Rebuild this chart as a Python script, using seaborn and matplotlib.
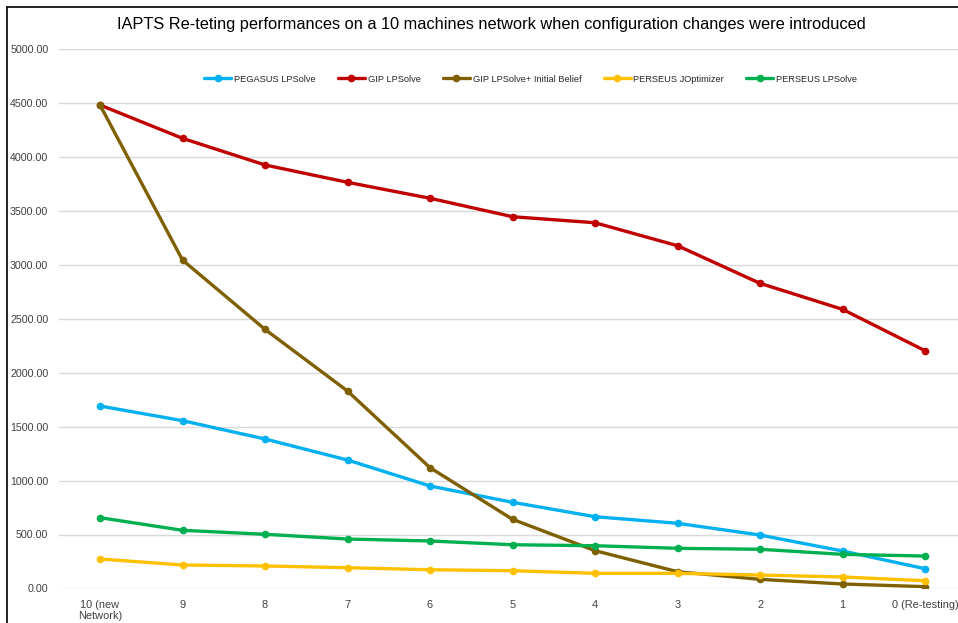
import matplotlib
matplotlib.use("Agg")
import matplotlib.pyplot as plt
import seaborn as sns
import pandas as pd
from matplotlib.lines import Line2D
from matplotlib.ticker import FormatStrFormatter

stages = ["10 (new\nNetwork)", "9", "8", "7", "6", "5", "4", "3", "2", "1", "0 (Re-testing)"]
pegasus_lpsolve = [1692, 1556, 1386, 1191, 950, 799, 665, 604, 495, 347, 183]
gip_lpsolve = [4484, 4175, 3928, 3767, 3619, 3448, 3392, 3179, 2830, 2589, 2205]
gip_lpsolve_belief = [4484, 3046, 2403, 1831, 1120, 641, 350, 155, 84, 41, 16]
perseus_joptimizer = [273, 217, 208, 192, 173, 164, 140, 140, 124, 106, 71]
perseus_lpsolve = [656, 539, 502, 458, 440, 405, 396, 372, 363, 316, 300]

series_names = ["PEGASUS LPSolve", "GIP LPSolve", "GIP LPSolve+ Initial Belief",
                "PERSEUS JOptimizer", "PERSEUS LPSolve"]
series_values = [pegasus_lpsolve, gip_lpsolve, gip_lpsolve_belief,
                 perseus_joptimizer, perseus_lpsolve]
colors = ["#00B0F0", "#C00000", "#7F6000", "#FFC000", "#00B050"]

rows = []
for name, vals in zip(series_names, series_values):
    for st, v in zip(stages, vals):
        rows.append({"stage": st, "value": v, "series": name})
df = pd.DataFrame(rows)

sns.set_style("white")
plt.rcParams["font.family"] = ["Liberation Sans", "DejaVu Sans"]

fig = plt.figure(figsize=(9.58, 6.23), dpi=100)
ax = fig.add_axes([58.75 / 958, 34.6 / 623, 907.5 / 958, 539.0 / 623])

sns.lineplot(data=df, x="stage", y="value", hue="series", hue_order=series_names,
             palette=dict(zip(series_names, colors)), marker="o", markersize=5.5,
             markeredgewidth=0, linewidth=2.4, sort=False, ax=ax)

ax.set_xlim(-0.5, 10.5)
ax.set_ylim(0, 5000)
ax.set_yticks(range(0, 5001, 500))
ax.yaxis.set_major_formatter(FormatStrFormatter("%.2f"))
ax.grid(axis="y", color="#D9D9D9", linewidth=1)
ax.grid(axis="x", visible=False)
ax.set_axisbelow(True)
for s in ax.spines.values():
    s.set_visible(False)
ax.tick_params(axis="y", length=0, labelsize=7.7, labelcolor="#404040", pad=7.5)
ax.tick_params(axis="x", length=0, labelsize=7.9, labelcolor="#404040", pad=8.5)
for lbl in ax.get_xticklabels():
    lbl.set_linespacing(1.15)
ax.set_xlabel("")
ax.set_ylabel("")

leg = ax.legend(loc="center", bbox_to_anchor=(0.52, 0.945), ncol=5, frameon=False,
                fontsize=6.7, handlelength=2.9, columnspacing=2.4, handletextpad=0.3)

fig.text(491 / 958, 1 - 24 / 623, "IAPTS Re-teting performances on a 10 machines network when configuration changes were introduced",
         ha="center", va="center", fontsize=11.8, color="#000000")

# chart border
fig.add_artist(Line2D([7 / 958, 7 / 958], [0, 1 - 7 / 623], transform=fig.transFigure, color="black", lw=1.2))
fig.add_artist(Line2D([7 / 958, 1], [1 - 7 / 623, 1 - 7 / 623], transform=fig.transFigure, color="black", lw=1.2))

fig.savefig("out.png", dpi=100)
